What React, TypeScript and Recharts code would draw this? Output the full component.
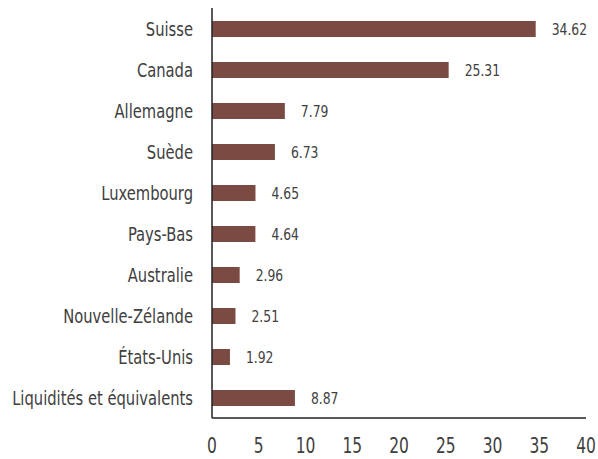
import { BarChart, Bar, XAxis, YAxis, LabelList } from 'recharts'

const countries = [
  'Suisse',
  'Canada',
  'Allemagne',
  'Suède',
  'Luxembourg',
  'Pays-Bas',
  'Australie',
  'Nouvelle-Zélande',
  'États-Unis',
  'Liquidités et équivalents',
]
const weights = [34.62, 25.31, 7.79, 6.73, 4.65, 4.64, 2.96, 2.51, 1.92, 8.87]
const xTicks = [0, 5, 10, 15, 20, 25, 30, 35, 40]

const chartData = countries.map((name, i) => ({ name, value: weights[i] }))

const font = '"DejaVu Sans Condensed", "Roboto", sans-serif'
const textColor = '#404040'
// no condensed DIN-style font installed, so squeeze horizontally
const squeeze = 0.82

function CategoryTick(props: any) {
  const { x, y, payload } = props
  return (
    <g transform={`translate(${x},${y}) scale(${squeeze},1)`}>
      <text x={0} y={0} dy="0.35em" textAnchor="end" fontSize={20} fill={textColor} fontFamily={font}>
        {payload.value}
      </text>
    </g>
  )
}

function ValueTick(props: any) {
  const { x, y, payload } = props
  return (
    <g transform={`translate(${x},${y}) scale(${squeeze},1)`}>
      <text x={0} y={0} dy="0.71em" textAnchor="middle" fontSize={21} fill={textColor} fontFamily={font}>
        {payload.value}
      </text>
    </g>
  )
}

function BarValue(props: any) {
  const { x, y, width, height, value } = props
  return (
    <g transform={`translate(${x + width + 16},${y + height / 2}) scale(0.86,1)`}>
      <text x={0} y={0} dy="0.35em" textAnchor="start" fontSize={16} fill={textColor} fontFamily={font}>
        {value}
      </text>
    </g>
  )
}

export default function App() {
  return (
    <div style={{ position: 'absolute', left: 0, top: 0, background: '#fff' }}>
      <BarChart
        width={598}
        height={459}
        data={chartData}
        layout="vertical"
        margin={{ top: 8, right: 12, bottom: 0, left: 0 }}
      >
        <XAxis
          type="number"
          domain={[0, 40]}
          ticks={xTicks}
          tickLine={false}
          axisLine={{ stroke: '#222', strokeWidth: 1.5 }}
          height={41}
          tickMargin={14}
          tick={<ValueTick />}
        />
        <YAxis
          type="category"
          dataKey="name"
          width={212}
          tickLine={false}
          axisLine={{ stroke: '#222', strokeWidth: 1.5 }}
          tickMargin={13}
          interval={0}
          tick={<CategoryTick />}
        />
        <Bar dataKey="value" fill="#7B4A42" barSize={16} isAnimationActive={false}>
          <LabelList dataKey="value" content={<BarValue />} />
        </Bar>
      </BarChart>
    </div>
  )
}
